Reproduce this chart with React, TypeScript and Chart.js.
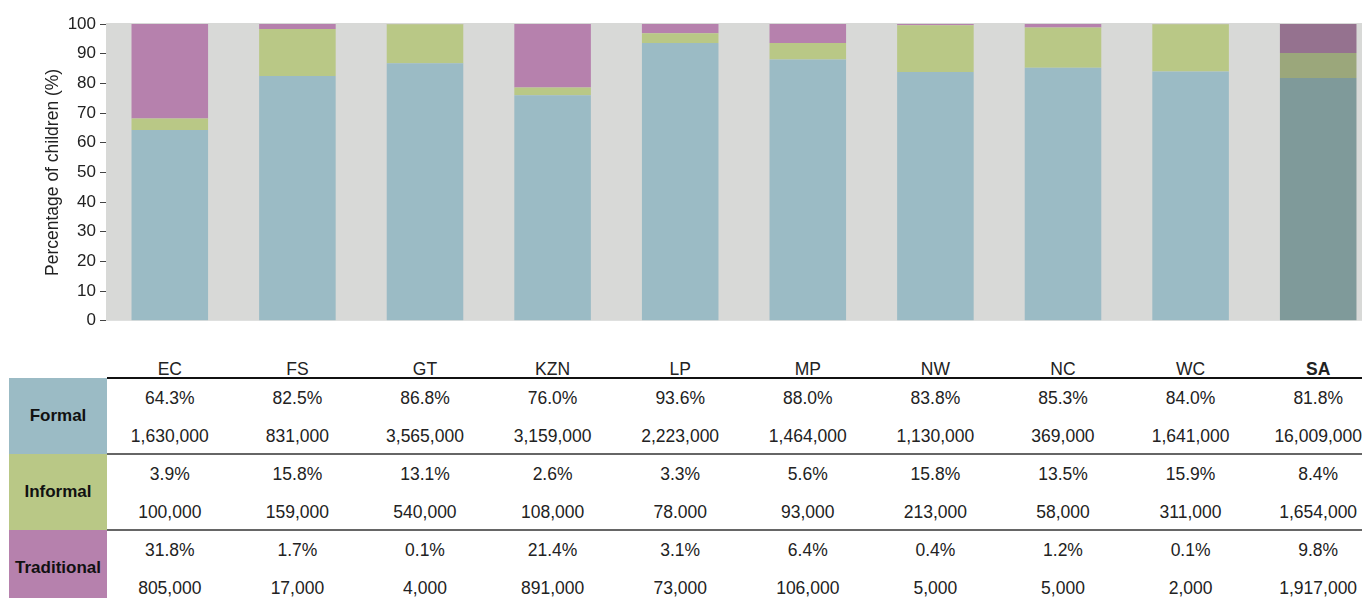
import React, { useEffect, useRef, useState } from "react";
import { Chart, registerables } from "chart.js";

Chart.register(...registerables);

const categories = ["EC", "FS", "GT", "KZN", "LP", "MP", "NW", "NC", "WC", "SA"];
const formalPct = [64.3, 82.5, 86.8, 76.0, 93.6, 88.0, 83.8, 85.3, 84.0, 81.8];
const informalPct = [3.9, 15.8, 13.1, 2.6, 3.3, 5.6, 15.8, 13.5, 15.9, 8.4];
const traditionalPct = [31.8, 1.7, 0.1, 21.4, 3.1, 6.4, 0.4, 1.2, 0.1, 9.8];
const formalCount = ["1,630,000", "831,000", "3,565,000", "3,159,000", "2,223,000", "1,464,000", "1,130,000", "369,000", "1,641,000", "16,009,000"];
const informalCount = ["100,000", "159,000", "540,000", "108,000", "78.000", "93,000", "213,000", "58,000", "311,000", "1,654,000"];
const traditionalCount = ["805,000", "17,000", "4,000", "891,000", "73,000", "106,000", "5,000", "5,000", "2,000", "1,917,000"];
const yTicks = [0, 10, 20, 30, 40, 50, 60, 70, 80, 90, 100];

const FONT = '"Liberation Sans", Arial, Helvetica, sans-serif';
const C_FORMAL = "#9bbbc5";
const C_INFORMAL = "#b9c886";
const C_TRAD = "#b681ad";
const SA_FORMAL = "#7f9a9a";
const SA_INFORMAL = "#9ba77b";
const SA_TRAD = "#95728f";
const BG = "#d8d9d7";

const colorsFor = (base: string, sa: string) => categories.map((c) => (c === "SA" ? sa : base));

const bgPlugin = {
  id: "plotBg",
  beforeDatasetsDraw(chart: any) {
    const { ctx, chartArea } = chart;
    ctx.save();
    ctx.fillStyle = BG;
    ctx.fillRect(chartArea.left, chartArea.top - 1, chartArea.right - chartArea.left, chartArea.bottom - chartArea.top + 1);
    ctx.restore();
  },
};

export default function App() {
  const ref = useRef<HTMLCanvasElement>(null);
  const [centers, setCenters] = useState<number[]>([]);

  useEffect(() => {
    if (!ref.current) return;
    const chart = new Chart(ref.current, {
      type: "bar",
      data: {
        labels: categories,
        datasets: [
          { label: "Formal", data: formalPct, backgroundColor: colorsFor(C_FORMAL, SA_FORMAL), barPercentage: 0.6, categoryPercentage: 1, borderWidth: 0 },
          { label: "Informal", data: informalPct, backgroundColor: colorsFor(C_INFORMAL, SA_INFORMAL), barPercentage: 0.6, categoryPercentage: 1, borderWidth: 0 },
          { label: "Traditional", data: traditionalPct, backgroundColor: colorsFor(C_TRAD, SA_TRAD), barPercentage: 0.6, categoryPercentage: 1, borderWidth: 0 },
        ],
      },
      options: {
        animation: false,
        responsive: false,
        devicePixelRatio: 1,
        layout: { padding: { left: 0, top: 24, right: 8, bottom: 9 } },
        plugins: { legend: { display: false }, tooltip: { enabled: false } },
        scales: {
          x: { stacked: true, display: false },
          y: {
            stacked: true,
            min: 0,
            max: 100,
            afterFit: (s: any) => { s.width = 106; },
            afterBuildTicks: (s: any) => { s.ticks = yTicks.map((v) => ({ value: v })); },
            ticks: { color: "#222", font: { family: FONT, size: 17 }, padding: 4 },
            grid: { drawOnChartArea: false, tickLength: 6, color: "#444", lineWidth: 1 },
            border: { display: false },
            title: { display: true, text: "Percentage of children (%)", color: "#222", font: { family: FONT, size: 17.5 }, padding: { top: 43, bottom: 0 } },
          },
        },
      },
      plugins: [bgPlugin],
    });
    const xs = chart.scales.x;
    setCenters(categories.map((_, i) => xs.getPixelForValue(i)));
    return () => chart.destroy();
  }, []);

  const colW = 127.6;
  const groups = [
    { name: "Formal", color: C_FORMAL, pct: formalPct, cnt: formalCount },
    { name: "Informal", color: C_INFORMAL, pct: informalPct, cnt: informalCount },
    { name: "Traditional", color: C_TRAD, pct: traditionalPct, cnt: traditionalCount },
  ];
  const headerY = 369;
  const tableTop = 378;
  const groupH = 76;

  const cell = (text: string, cx: number, cy: number, bold = false, key?: string) => (
    <div
      key={key}
      style={{
        position: "absolute",
        left: cx - colW / 2,
        width: colW,
        top: cy - 12,
        height: 24,
        lineHeight: "24px",
        textAlign: "center",
        fontFamily: FONT,
        fontSize: 17.5,
        fontWeight: bold ? 700 : 400,
        color: "#222",
        whiteSpace: "nowrap",
      }}
    >
      {text}
    </div>
  );

  return (
    <div style={{ position: "absolute", left: 0, top: 0, width: 1362, height: 598, overflow: "hidden", background: "#fff" }}>
      <canvas ref={ref} width={1390} height={335} style={{ position: "absolute", left: 0, top: 0, width: 1390, height: 335 }} />
      {centers.map((cx, i) => cell(categories[i], cx, headerY, categories[i] === "SA", "h" + i))}
      <div style={{ position: "absolute", left: 107, right: 0, top: tableTop - 1, height: 1.5, background: "#111" }} />
      {groups.map((g, gi) => {
        const top = tableTop + gi * groupH;
        return (
          <React.Fragment key={g.name}>
            <div
              style={{
                position: "absolute",
                left: 9,
                width: 98,
                top,
                height: groupH,
                background: g.color,
                display: "flex",
                alignItems: "center",
                justifyContent: "center",
                fontFamily: FONT,
                fontSize: 17,
                fontWeight: 700,
                color: "#111",
              }}
            >
              {g.name}
            </div>
            {gi > 0 && <div style={{ position: "absolute", left: 107, right: 0, top: top - 1, height: 1.5, background: "#666" }} />}
            {centers.map((cx, i) => cell(g.pct[i].toFixed(1) + "%", cx, top + 20, false, g.name + "p" + i))}
            {centers.map((cx, i) => cell(g.cnt[i], cx, top + 58, false, g.name + "c" + i))}
          </React.Fragment>
        );
      })}
    </div>
  );
}
